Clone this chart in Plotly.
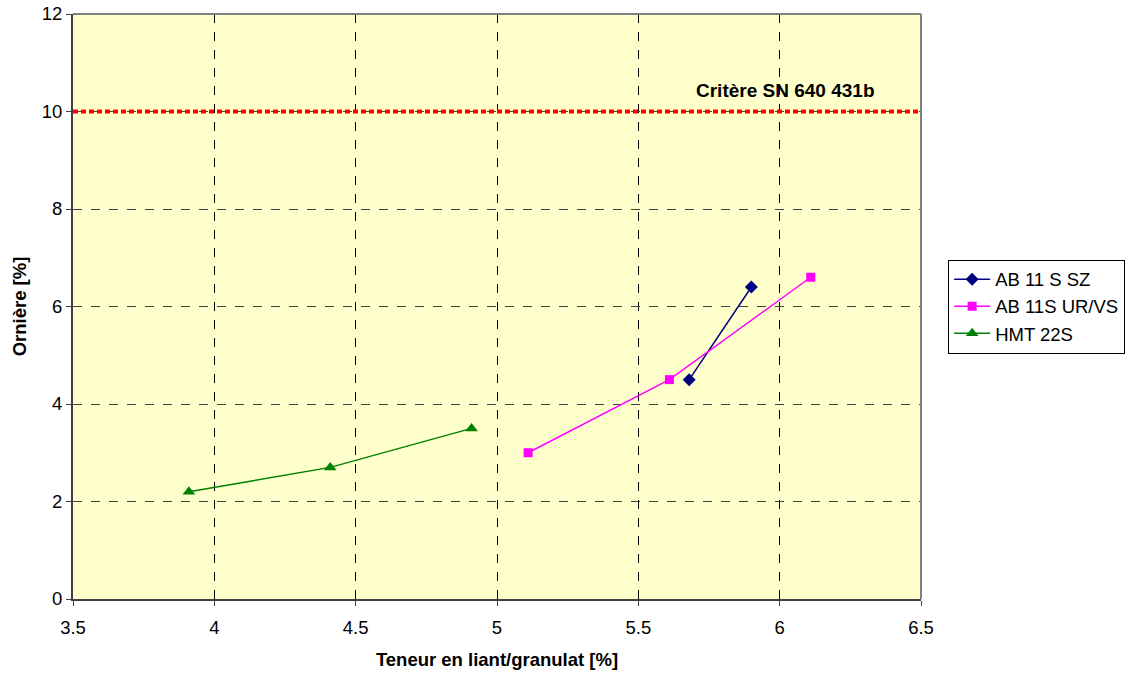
import plotly.graph_objects as go

# Binder content vs rut depth
sz_x = [5.68, 5.90]
sz_y = [4.5, 6.4]

urvs_x = [5.11, 5.61, 6.11]
urvs_y = [3.0, 4.5, 6.6]

hmt_x = [3.91, 4.41, 4.91]
hmt_y = [2.2, 2.7, 3.5]

critere_y = 10
critere_label = "Critère SN 640 431b"

x_ticks = [3.5, 4, 4.5, 5, 5.5, 6, 6.5]
y_ticks = [0, 2, 4, 6, 8, 10, 12]

FONT = "Liberation Sans, Arial, sans-serif"
FS = 18.5

fig = go.Figure()

# Criterion line (drawn first so the series sit on top)
fig.add_trace(go.Scatter(
    x=[x_ticks[0], x_ticks[-1]], y=[critere_y, critere_y], mode="lines",
    line=dict(color="#FF0000", width=4, dash="5px,3px"),
    showlegend=False, hoverinfo="skip", cliponaxis=False,
))

fig.add_trace(go.Scatter(
    x=sz_x, y=sz_y, mode="lines+markers", name="AB 11 S SZ",
    line=dict(color="#000080", width=1.5),
    marker=dict(symbol="diamond", size=10, color="#000080"),
))
fig.add_trace(go.Scatter(
    x=urvs_x, y=urvs_y, mode="lines+markers", name="AB 11S UR/VS",
    line=dict(color="#FF00FF", width=1.5),
    marker=dict(symbol="square", size=9, color="#FF00FF"),
))
fig.add_trace(go.Scatter(
    x=hmt_x, y=hmt_y, mode="lines+markers", name="HMT 22S",
    line=dict(color="#008000", width=1.5),
    marker=dict(symbol="triangle-up", size=11, color="#008000"),
))

fig.add_annotation(
    x=6.02, y=10.44, text="<b>" + critere_label + "</b>", showarrow=False,
    font=dict(family=FONT, size=19, color="#000000"),
)

# Grey frame on top and right of the plot area
fig.add_shape(type="line", xref="paper", yref="paper", x0=0, x1=1, y0=1, y1=1,
              line=dict(color="#808080", width=2))
fig.add_shape(type="line", xref="paper", yref="paper", x0=1, x1=1, y0=0, y1=1,
              line=dict(color="#808080", width=2))

fig.update_layout(
    width=1128, height=675,
    margin=dict(l=73, r=207, t=14, b=76, autoexpand=False),
    paper_bgcolor="#FFFFFF",
    plot_bgcolor="#FFFFCC",
    font=dict(family=FONT, size=FS, color="#000000"),
    showlegend=True,
    legend=dict(
        x=1.032, y=0.58, xanchor="left", yanchor="top",
        bgcolor="#FFFFFF", bordercolor="#000000", borderwidth=1,
        font=dict(family=FONT, size=FS), tracegroupgap=0,
        itemwidth=36,
    ),
    xaxis=dict(
        range=[3.5, 6.5], tickvals=x_ticks,
        ticktext=[f"{v:g}" for v in x_ticks],
        showgrid=True, gridcolor="#000000", griddash="dash", gridwidth=1,
        showline=True, linecolor="#404040", linewidth=2,
        ticks="outside", ticklen=5, tickcolor="#404040",
        ticklabelstandoff=6,
        zeroline=False, automargin=False,
        title=dict(text="<b>Teneur en liant/granulat [%]</b>", standoff=16,
                   font=dict(size=FS)),
    ),
    yaxis=dict(
        range=[0, 12], tickvals=y_ticks,
        showgrid=True, gridcolor="#404040", griddash="dash", gridwidth=1,
        showline=True, linecolor="#404040", linewidth=2,
        ticks="outside", ticklen=5, tickcolor="#404040",
        zeroline=False, automargin=False,
        title=dict(text="<b>Ornière [%]</b>", standoff=10, font=dict(size=FS)),
    ),
)

fig.write_html("out.html")
